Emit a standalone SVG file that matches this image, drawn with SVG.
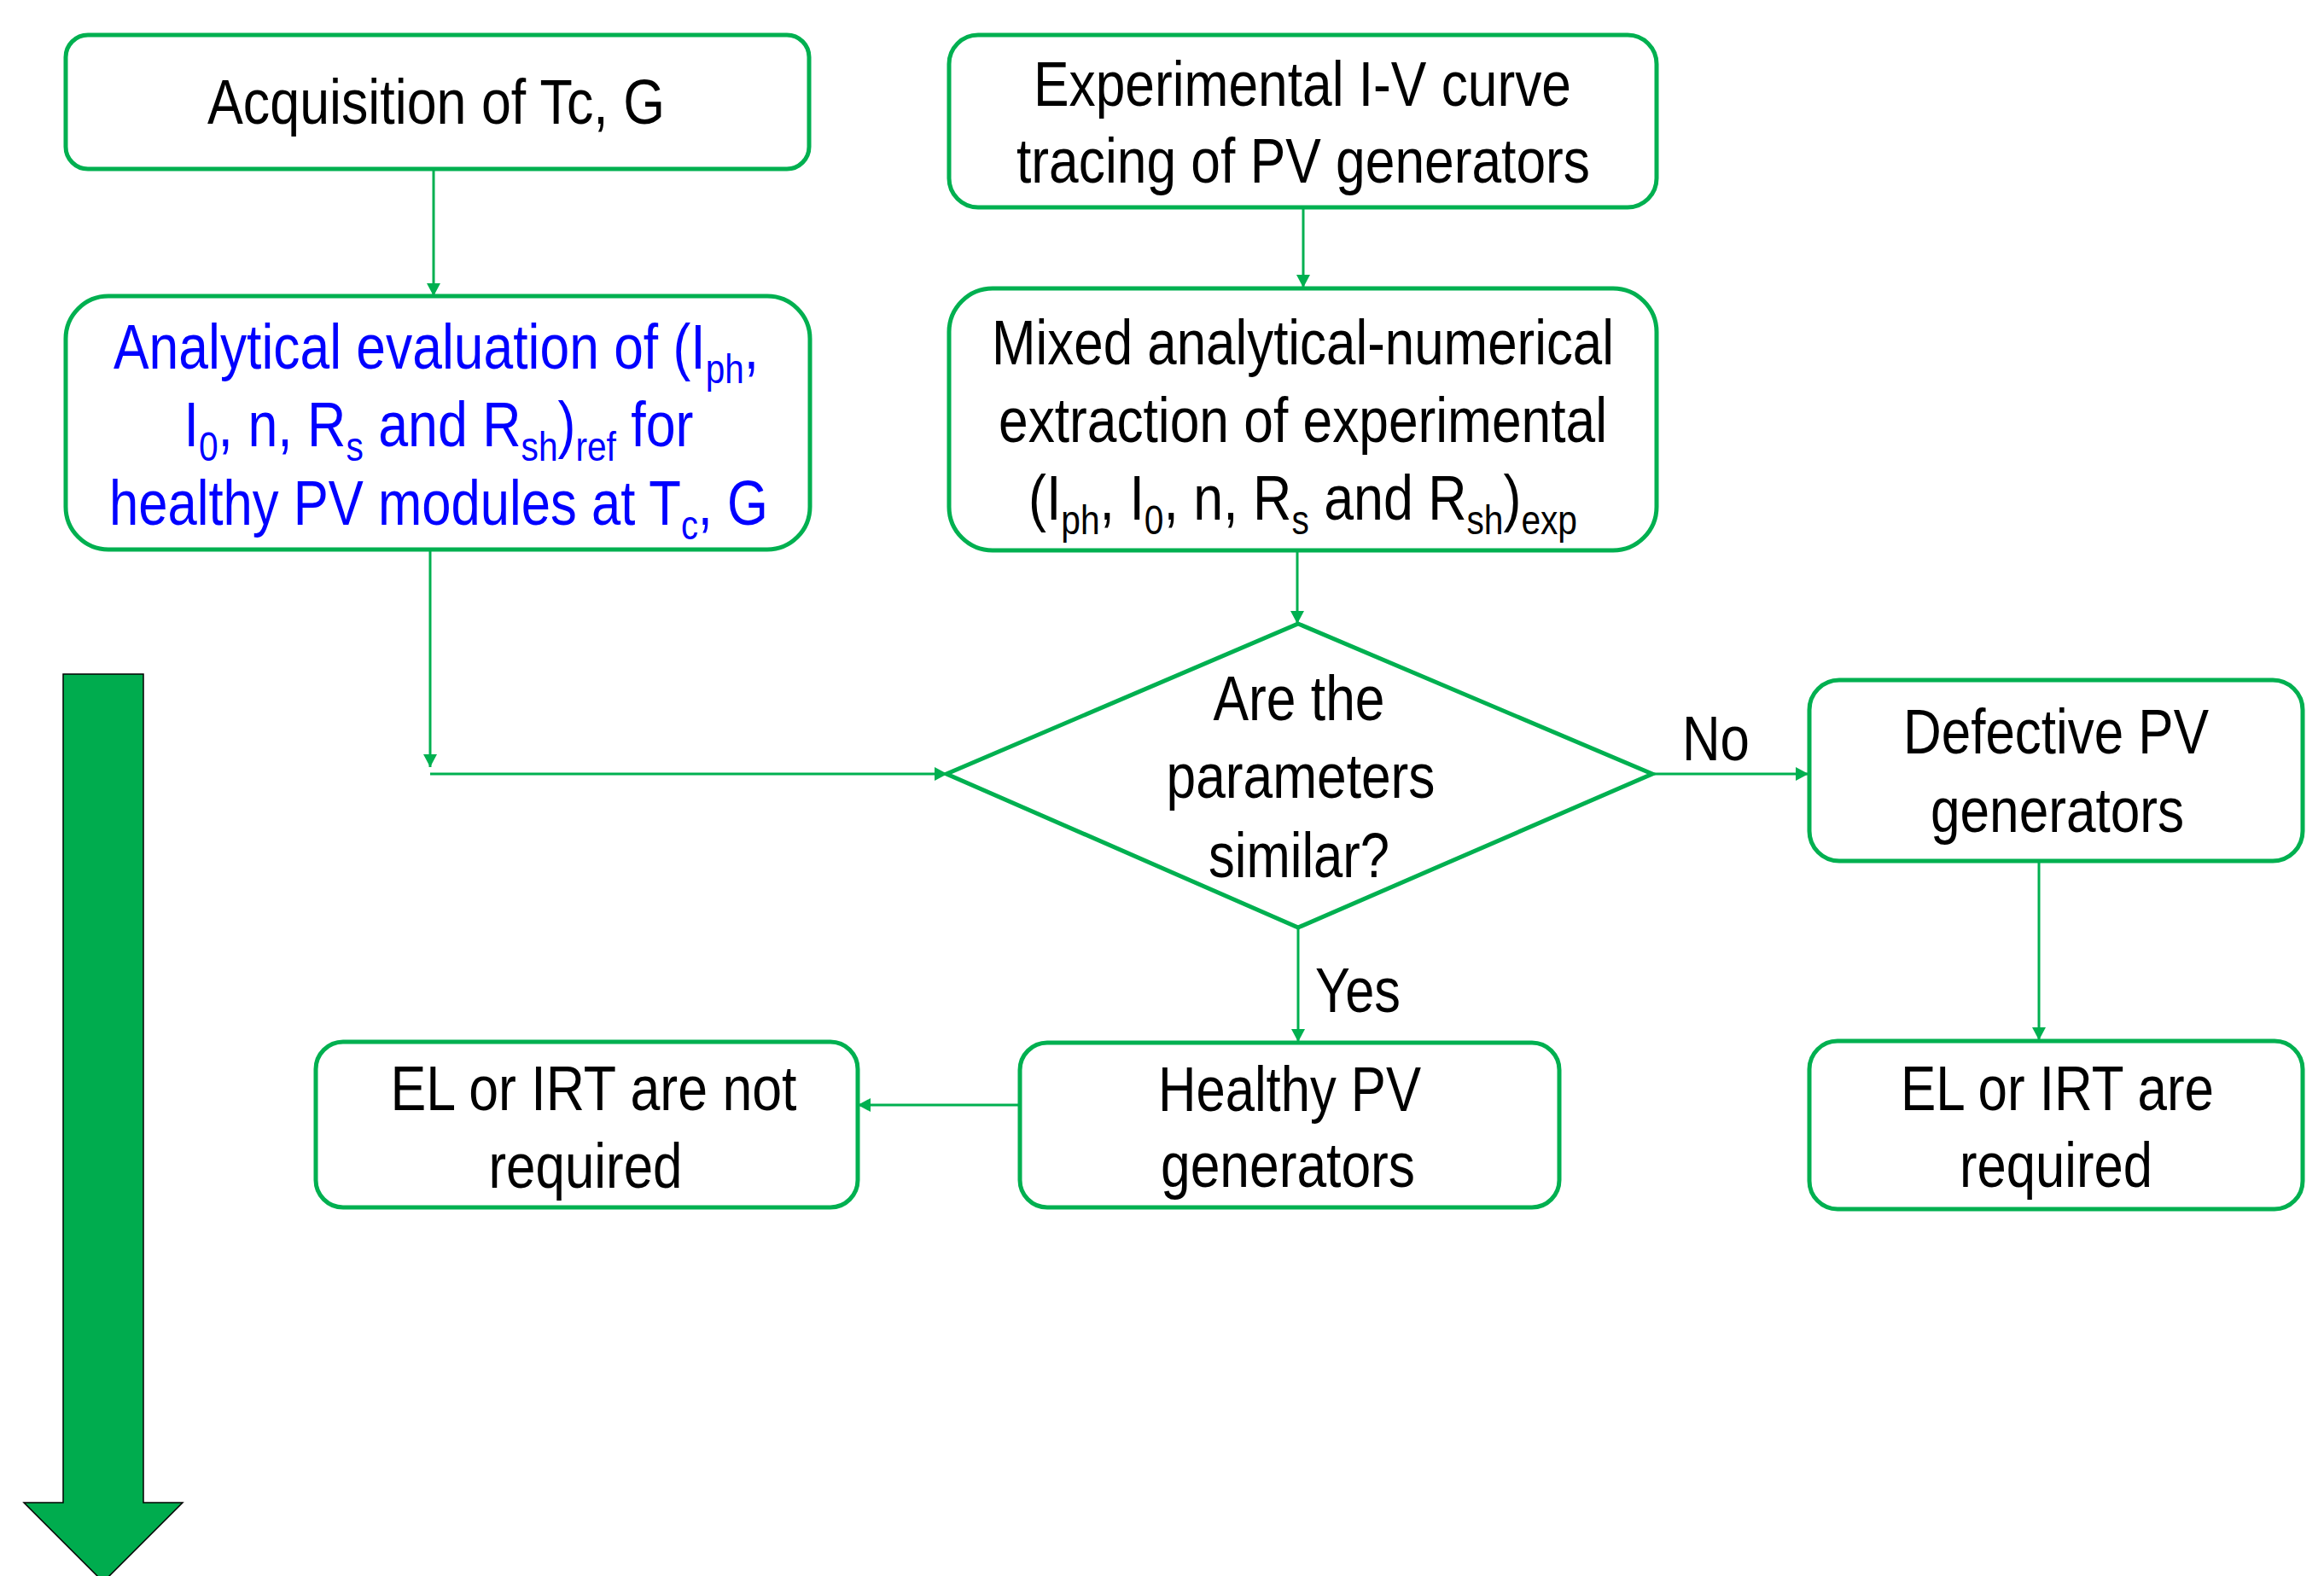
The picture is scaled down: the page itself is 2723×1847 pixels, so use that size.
<svg xmlns="http://www.w3.org/2000/svg" width="2723" height="1847" viewBox="0 0 2723 1847">
<style>
.box{fill:#fff;stroke:#00B050;stroke-width:5}
.con{fill:none;stroke:#00B050;stroke-width:3}
.t{font-family:"Liberation Sans",Arial,sans-serif;font-size:74px;fill:#000;text-anchor:middle}
.blue{fill:#0000FF}
.sub{font-size:48px}
</style>
<defs>
<marker id="ah" markerUnits="userSpaceOnUse" markerWidth="16" markerHeight="16" refX="15" refY="8" orient="auto">
<path d="M0,0 L15,8 L0,16 z" fill="#00B050"/>
</marker>
</defs>
<rect width="2723" height="1847" fill="#fff"/>
<g id="bigarrow">
<polygon points="74,790 168,790 168,1761 214,1761 121,1854 28,1761 74,1761" fill="#00AC4E" stroke="#000" stroke-width="1.5"/>
</g>
<g id="connectors">
<line class="con" x1="508" y1="198" x2="508" y2="347" marker-end="url(#ah)"/>
<line class="con" x1="504" y1="644" x2="504" y2="899" marker-end="url(#ah)"/>
<line class="con" x1="504" y1="907" x2="1110" y2="907" marker-end="url(#ah)"/>
<line class="con" x1="1527" y1="243" x2="1527" y2="337" marker-end="url(#ah)"/>
<line class="con" x1="1520" y1="645" x2="1520" y2="731" marker-end="url(#ah)"/>
<line class="con" x1="1936" y1="907" x2="2119" y2="907" marker-end="url(#ah)"/>
<line class="con" x1="1521" y1="1087" x2="1521" y2="1221" marker-end="url(#ah)"/>
<line class="con" x1="1194" y1="1295" x2="1005" y2="1295" marker-end="url(#ah)"/>
<line class="con" x1="2389" y1="1009" x2="2389" y2="1219" marker-end="url(#ah)"/>
<text class="t" x="2010.5" y="891" textLength="79" lengthAdjust="spacingAndGlyphs">No</text>
<text class="t" x="1591" y="1186" textLength="100" lengthAdjust="spacingAndGlyphs">Yes</text>
</g>
<g id="n1">
<rect class="box" x="77" y="41" width="871" height="157" rx="26"/>
<text class="t" x="511" y="145" textLength="536" lengthAdjust="spacingAndGlyphs">Acquisition of Tc, G</text>
</g>
<g id="n2">
<rect class="box" x="77" y="347" width="872" height="297" rx="50"/>
<text class="t blue" x="511" y="432" textLength="756" lengthAdjust="spacingAndGlyphs">Analytical evaluation of (I<tspan class="sub" dy="17">ph</tspan><tspan dy="-17">,</tspan></text>
<text class="t blue" x="514" y="523" textLength="597" lengthAdjust="spacingAndGlyphs">I<tspan class="sub" dy="17">0</tspan><tspan dy="-17">, n, R</tspan><tspan class="sub" dy="17">s</tspan><tspan dy="-17"> and R</tspan><tspan class="sub" dy="17">sh</tspan><tspan dy="-17">)</tspan><tspan class="sub" dy="17">ref</tspan><tspan dy="-17"> for</tspan></text>
<text class="t blue" x="514" y="615" textLength="772" lengthAdjust="spacingAndGlyphs">healthy PV modules at T<tspan class="sub" dy="17">c</tspan><tspan dy="-17">, G</tspan></text>
</g>
<g id="n3">
<rect class="box" x="1112" y="41" width="829" height="202" rx="34"/>
<text class="t" x="1526" y="124" textLength="630" lengthAdjust="spacingAndGlyphs">Experimental I-V curve</text>
<text class="t" x="1527" y="214" textLength="672" lengthAdjust="spacingAndGlyphs">tracing of PV generators</text>
</g>
<g id="n4">
<rect class="box" x="1112" y="338" width="829" height="307" rx="51"/>
<text class="t" x="1526.5" y="427" textLength="729" lengthAdjust="spacingAndGlyphs">Mixed analytical-numerical</text>
<text class="t" x="1526.5" y="518" textLength="713" lengthAdjust="spacingAndGlyphs">extraction of experimental</text>
<text class="t" x="1526.5" y="609" textLength="643" lengthAdjust="spacingAndGlyphs">(I<tspan class="sub" dy="17">ph</tspan><tspan dy="-17">, I</tspan><tspan class="sub" dy="17">0</tspan><tspan dy="-17">, n, R</tspan><tspan class="sub" dy="17">s</tspan><tspan dy="-17"> and R</tspan><tspan class="sub" dy="17">sh</tspan><tspan dy="-17">)</tspan><tspan class="sub" dy="17">exp</tspan></text>
</g>
<g id="n5">
<polygon class="box" points="1521,731 1936,907 1521,1087 1109,907"/>
<text class="t" x="1522" y="844" textLength="201" lengthAdjust="spacingAndGlyphs">Are the</text>
<text class="t" x="1524" y="935" textLength="315" lengthAdjust="spacingAndGlyphs">parameters</text>
<text class="t" x="1522" y="1028" textLength="212" lengthAdjust="spacingAndGlyphs">similar?</text>
</g>
<g id="n6">
<rect class="box" x="2120" y="797" width="578" height="212" rx="35"/>
<text class="t" x="2409" y="883" textLength="358" lengthAdjust="spacingAndGlyphs">Defective PV</text>
<text class="t" x="2410.5" y="975" textLength="297" lengthAdjust="spacingAndGlyphs">generators</text>
</g>
<g id="n7">
<rect class="box" x="2120" y="1220" width="578" height="197" rx="33"/>
<text class="t" x="2410.5" y="1301" textLength="367" lengthAdjust="spacingAndGlyphs">EL or IRT are</text>
<text class="t" x="2409" y="1391" textLength="226" lengthAdjust="spacingAndGlyphs">required</text>
</g>
<g id="n8">
<rect class="box" x="1195" y="1222" width="632" height="193" rx="32"/>
<text class="t" x="1511" y="1302" textLength="308" lengthAdjust="spacingAndGlyphs">Healthy PV</text>
<text class="t" x="1509" y="1391" textLength="298" lengthAdjust="spacingAndGlyphs">generators</text>
</g>
<g id="n9">
<rect class="box" x="370" y="1221" width="635" height="194" rx="32"/>
<text class="t" x="695.5" y="1301" textLength="476" lengthAdjust="spacingAndGlyphs">EL or IRT are not</text>
<text class="t" x="686" y="1392" textLength="227" lengthAdjust="spacingAndGlyphs">required</text>
</g>
</svg>
